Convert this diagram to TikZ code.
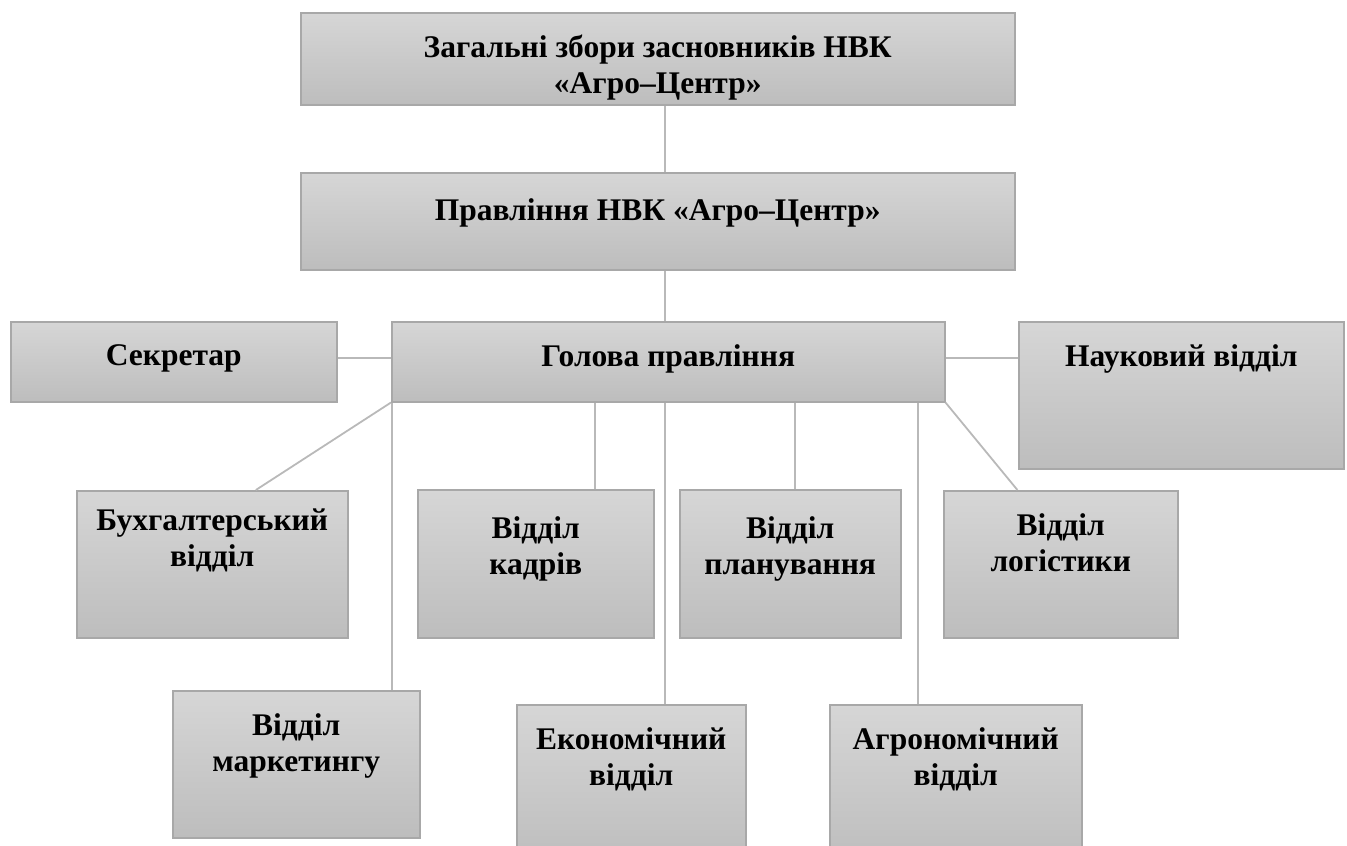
\documentclass[tikz,border=0pt]{standalone}
\usepackage{fontspec}
\setmainfont{Liberation Serif}
\usetikzlibrary{calc}

\definecolor{boxtop}{RGB}{214,214,214}
\definecolor{boxbottom}{RGB}{189,189,189}
\definecolor{boxedge}{RGB}{168,168,168}
\definecolor{linkgray}{RGB}{185,185,185}

\tikzstyle{unit} =[draw=boxedge, line width=1.5pt,
top color=boxtop, bottom color=boxbottom,
anchor=north west, inner sep=0pt]
\tikzstyle{caption} =[anchor=north, inner sep=0pt, yshift=-23pt,
align=center, font=\fontsize{31.5}{36}\selectfont\bfseries]
\tikzstyle{link} =[draw=linkgray, line width=1.8pt]

\begin{document}
\begin{tikzpicture}[x=1pt, y=-1pt]
\useasboundingbox (0,0) rectangle (1347,846);

% top of the chart
\node[unit, minimum width=714pt, minimum height=92pt,
	label={[caption]north:Загальні збори засновників НВК\\«Агро–Центр»}]
	(zbory) at (300,12) {};
\node[unit, minimum width=714pt, minimum height=97pt,
	label={[caption, yshift=-3pt]north:Правління НВК «Агро–Центр»}]
	(pravl) at (300,172) {};

% second row
\node[unit, minimum width=326pt, minimum height=80pt,
	label={[caption]north:Секретар}] (sekr) at (10,321) {};
\node[unit, minimum width=553pt, minimum height=80pt,
	label={[caption]north:Голова правління}] (holova) at (391,321) {};
\node[unit, minimum width=325pt, minimum height=147pt,
	label={[caption]north:Науковий відділ}] (nauk) at (1018,321) {};

% departments
\node[unit, minimum width=271pt, minimum height=147pt,
	label={[caption, yshift=4pt]north:Бухгалтерський\\відділ}] (buh) at (76,490) {};
\node[unit, minimum width=236pt, minimum height=148pt,
	label={[caption, yshift=-4pt]north:Відділ\\кадрів}] (kadry) at (417,489) {};
\node[unit, minimum width=221pt, minimum height=148pt,
	label={[caption, yshift=-4pt]north:Відділ\\планування}] (plan) at (679,489) {};
\node[unit, minimum width=234pt, minimum height=147pt,
	label={[caption]north:Відділ\\логістики}] (logist) at (943,490) {};
\node[unit, minimum width=247pt, minimum height=147pt,
	label={[caption]north:Відділ\\маркетингу}] (market) at (172,690) {};
\node[unit, minimum width=229pt, minimum height=160pt,
	label={[caption]north:Економічний\\відділ}] (ekon) at (516,704) {};
\node[unit, minimum width=252pt, minimum height=160pt,
	label={[caption]north:Агрономічний\\відділ}] (agro) at (829,704) {};

% connectors
\coordinate (spine) at (665,0);
\draw[link] (zbory.south -| spine) -- (pravl.north -| spine);
\draw[link] (pravl.south -| spine) -- (holova.north -| spine);
\draw[link] ([yshift=4pt]sekr.east) -- ([yshift=4pt]holova.west);
\draw[link] ([yshift=4pt]holova.east) -- ([yshift=4pt]holova.east -| nauk.west);
\draw[link] (holova.south west) -- ($(buh.north west)!0.66!(buh.north east)$);
\draw[link] (holova.south east) -- ($(logist.north west)!0.316!(logist.north east)$);
\foreach \x/\t in {392/market, 595/kadry, 665/ekon, 795/plan, 918/agro}
{
	\coordinate (drop) at (\x,0);
	\draw[link] (holova.south -| drop) -- (\t.north -| drop);
}
\end{tikzpicture}
\end{document}
